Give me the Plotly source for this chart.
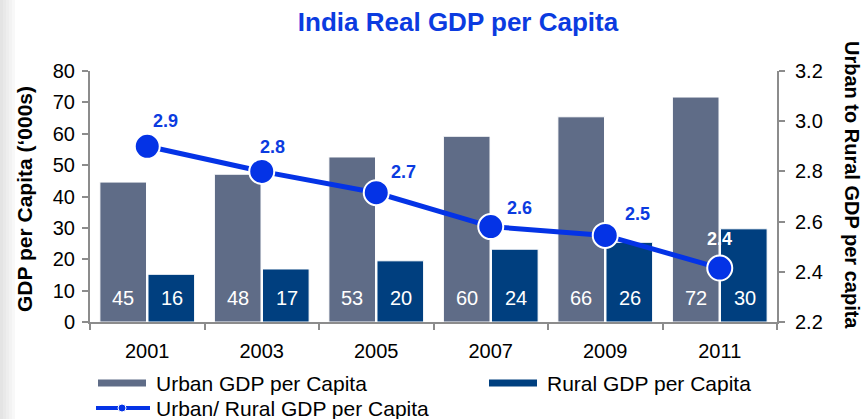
import plotly.graph_objects as go

# ---------------- data ----------------
years = ["2001", "2003", "2005", "2007", "2009", "2011"]
urban = [44.6, 47.1, 52.6, 59.2, 65.4, 71.7]
rural = [15.2, 16.9, 19.5, 23.2, 25.4, 29.7]
ratio = [2.90, 2.80, 2.715, 2.58, 2.545, 2.415]
urban_labels = ["45", "48", "53", "60", "66", "72"]
rural_labels = ["16", "17", "20", "24", "26", "30"]
ratio_labels = ["2.9", "2.8", "2.7", "2.6", "2.5", "2.4"]

series_names = ["Urban GDP per Capita", "Rural GDP per Capita", "Urban/ Rural GDP per Capita"]
title_text = "India Real GDP per Capita"
left_title = "GDP per Capita (\u2018000s)"
right_title = "Urban to Rural GDP per capita"

# ---------------- style ----------------
W, H = 864, 419
ML, MR, MT, MB = 90, 87, 71, 97
PW, PH = W - ML - MR, H - MT - MB
FONT = "Liberation Sans, Arial, sans-serif"
C_URBAN = "#5F6C87"
C_RURAL = "#003F7F"
C_LINE = "#0433E6"
C_TXT_BLUE = "#0B3BE0"
AX = "#8C8C8C"

# label offsets (px) for ratio labels, and colours
ratio_dx = [18, 11, 27, 29, 32, 0]
ratio_dy = [25, 24, 21, 19, 21, 29]
ratio_col = [C_TXT_BLUE] * 5 + ["white"]


def px2x(px):
    return (px - ML) / PW


def px2y(py):
    return (H - MB - py) / PH


fig = go.Figure()
fig.add_trace(go.Bar(x=years, y=urban, name=series_names[0],
                     marker=dict(color=C_URBAN, line=dict(color="white", width=1)), showlegend=False))
fig.add_trace(go.Bar(x=years, y=rural, name=series_names[1],
                     marker=dict(color=C_RURAL, line=dict(color="white", width=1)), showlegend=False))
fig.add_trace(go.Scatter(x=years, y=ratio, name=series_names[2], mode="lines+markers", yaxis="y2",
                         line=dict(color=C_LINE, width=5),
                         marker=dict(size=25, color=C_LINE, line=dict(color="white", width=2)),
                         showlegend=False))

annotations = []
# bar value labels (category index used as x position)
for i, (ul, rl) in enumerate(zip(urban_labels, rural_labels)):
    annotations.append(dict(x=i, y=7.5, xref="x", yref="y", text=ul, showarrow=False, xshift=-24,
                            font=dict(family=FONT, size=20, color="white"), yanchor="middle"))
    annotations.append(dict(x=i, y=7.5, xref="x", yref="y", text=rl, showarrow=False, xshift=25,
                            font=dict(family=FONT, size=20, color="white"), yanchor="middle"))
# ratio labels
for i, (v, lab, dx, dy, col) in enumerate(zip(ratio, ratio_labels, ratio_dx, ratio_dy, ratio_col)):
    annotations.append(dict(x=i, y=v, xref="x", yref="y2", text="<b>%s</b>" % lab, showarrow=False,
                            xshift=dx, yshift=dy, font=dict(family=FONT, size=18, color=col)))
# axis titles
annotations.append(dict(x=px2x(24), y=px2y(199), xref="paper", yref="paper", text="<b>%s</b>" % left_title,
                        textangle=-90, showarrow=False, xanchor="center", yanchor="middle",
                        font=dict(family=FONT, size=21, color="black")))
annotations.append(dict(x=px2x(852), y=px2y(185), xref="paper", yref="paper", text="<b>%s</b>" % right_title,
                        textangle=90, showarrow=False, xanchor="center", yanchor="middle",
                        font=dict(family=FONT, size=20, color="black")))

# custom legend
shapes = []
leg = [
    (98, 383, series_names[0], "bar", C_URBAN),
    (489, 383, series_names[1], "bar", C_RURAL),
    (96, 408, series_names[2], "line", C_LINE),
]
for x0, yc, name, kind, col in leg:
    if kind == "bar":
        shapes.append(dict(type="rect", xref="paper", yref="paper", x0=px2x(x0), x1=px2x(x0 + 48),
                           y0=px2y(yc + 3.5), y1=px2y(yc - 3.5), fillcolor=col, line=dict(width=0)))
        tx = x0 + 56
    else:
        shapes.append(dict(type="line", xref="paper", yref="paper", x0=px2x(x0), x1=px2x(x0 + 54),
                           y0=px2y(yc), y1=px2y(yc), line=dict(color=col, width=4)))
        shapes.append(dict(type="circle", xref="paper", yref="paper", x0=px2x(x0 + 22), x1=px2x(x0 + 30),
                           y0=px2y(yc + 4), y1=px2y(yc - 4), fillcolor=col, line=dict(color="white", width=1)))
        tx = x0 + 58
    annotations.append(dict(x=px2x(tx), y=px2y(yc), xref="paper", yref="paper", text=name, showarrow=False,
                            xanchor="left", yanchor="middle", font=dict(family=FONT, size=21, color="black")))

# left gradient strip
strip_cols = ["#e4e4e4", "#e9e9e9", "#eeeeee", "#f3f3f3", "#f8f8f8"]
for i, c in enumerate(strip_cols):
    shapes.append(dict(type="rect", xref="paper", yref="paper", x0=px2x(i * 3), x1=px2x(i * 3 + 3),
                       y0=px2y(H), y1=px2y(0), fillcolor=c, line=dict(width=0), layer="below"))

fig.update_layout(
    width=W, height=H,
    margin=dict(l=ML, r=MR, t=MT, b=MB, autoexpand=False),
    paper_bgcolor="white", plot_bgcolor="white",
    barmode="group", bargap=0.16, bargroupgap=0.03,
    title=dict(text="<b>%s</b>" % title_text, x=458 / W, xref="container", xanchor="center",
               y=1 - 22 / H, yref="container", yanchor="middle",
               font=dict(family=FONT, size=26, color=C_TXT_BLUE)),
    font=dict(family=FONT, size=20, color="black"),
    showlegend=False,
    xaxis=dict(type="category", categoryorder="array", categoryarray=years, range=[-0.5, len(years) - 0.5],
               showline=True, linecolor=AX, linewidth=2, ticks="outside", tickson="boundaries",
               ticklen=6, tickcolor=AX, tickwidth=2, tickangle=0, ticklabelstandoff=10,
               tickfont=dict(family=FONT, size=20, color="black"),
               showgrid=False, zeroline=False),
    yaxis=dict(range=[0, 80], dtick=10, showline=True, linecolor=AX, linewidth=2, ticks="outside", ticklen=6,
               tickcolor=AX, tickwidth=2, tickfont=dict(family=FONT, size=20, color="black"),
               ticklabelstandoff=3, showgrid=False, zeroline=False),
    yaxis2=dict(range=[2.2, 3.2], dtick=0.2, tickformat=".1f", overlaying="y", side="right", showline=True,
                linecolor=AX, linewidth=2, ticks="outside", ticklen=6, tickcolor=AX, tickwidth=2,
                tickfont=dict(family=FONT, size=20, color="black"), ticklabelstandoff=6,
                showgrid=False, zeroline=False),
    annotations=annotations,
    shapes=shapes,
)

fig.write_html("out.html", config={"displayModeBar": False},
               post_script="document.body.style.margin='0';")
